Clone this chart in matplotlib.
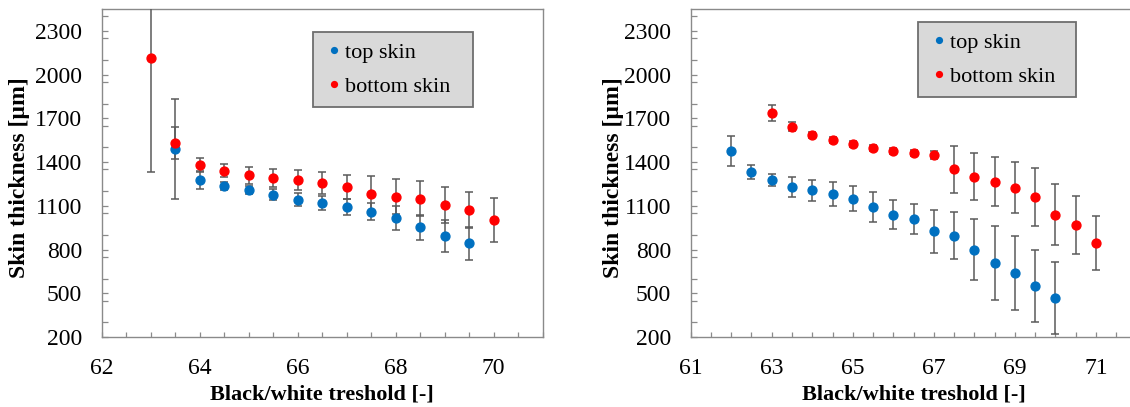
import matplotlib
matplotlib.use("Agg")
import matplotlib.pyplot as plt
from matplotlib.ticker import MultipleLocator, FixedLocator
from matplotlib.lines import Line2D

plt.rcParams['font.family'] = ['Liberation Serif', 'DejaVu Serif']

# ---------------- data ----------------
# left panel
x_top_L = [63.5, 64, 64.5, 65, 65.5, 66, 66.5, 67, 67.5, 68, 68.5, 69, 69.5]
top_L = [1490, 1280, 1236, 1207, 1177, 1143, 1118, 1090, 1060, 1017, 953, 893, 843]
top_L_err = [340, 62, 30, 28, 36, 44, 50, 55, 60, 80, 85, 110, 112]
x_bot_L = [63, 63.5, 64, 64.5, 65, 65.5, 66, 66.5, 67, 67.5, 68, 68.5, 69, 69.5, 70]
bot_L = [2111, 1530, 1382, 1341, 1310, 1293, 1276, 1257, 1230, 1184, 1161, 1147, 1104, 1072, 1001]
bot_L_err = [780, 110, 48, 44, 59, 62, 70, 75, 80, 120, 120, 120, 125, 125, 150]

# right panel
x_top_R = [62, 62.5, 63, 63.5, 64, 64.5, 65, 65.5, 66, 66.5, 67, 67.5, 68, 68.5, 69, 69.5, 70]
top_R = [1476, 1332, 1277, 1227, 1205, 1182, 1150, 1091, 1038, 1011, 924, 895, 799, 708, 640, 549, 467]
top_R_err = [100, 48, 40, 70, 75, 80, 85, 105, 100, 102, 150, 160, 210, 255, 255, 245, 245]
x_bot_R = [63, 63.5, 64, 64.5, 65, 65.5, 66, 66.5, 67, 67.5, 68, 68.5, 69, 69.5, 70, 70.5, 71]
bot_R = [1738, 1642, 1585, 1551, 1524, 1498, 1478, 1464, 1448, 1350, 1300, 1266, 1223, 1159, 1038, 970, 845]
bot_R_err = [55, 30, 20, 20, 20, 20, 20, 22, 25, 160, 160, 170, 175, 200, 210, 200, 182]

y_ticks = [200, 500, 800, 1100, 1400, 1700, 2000, 2300]
xticks_L = [62, 64, 66, 68, 70]
xticks_R = [61, 63, 65, 67, 69, 71]

labels = ["top skin", "bottom skin"]
BLUE = "#0070C0"
RED = "#FF0000"
ERR = "#5A5A5A"
SPINE = "#8A8A8A"

W, H = 1130, 407
fig = plt.figure(figsize=(W / 100, H / 100), dpi=100)

def px_axes(left, right, top, bottom):
    return [left / W, 1 - bottom / H, (right - left) / W, (bottom - top) / H]

axL = fig.add_axes(px_axes(101.7, 542.7, 9, 337))
axR = fig.add_axes(px_axes(690.7, 1136.5, 9, 337))

def style(ax, xlim, xticks):
    ax.set_xlim(*xlim)
    ax.set_ylim(200, 2450)
    ax.xaxis.set_major_locator(FixedLocator(xticks))
    ax.xaxis.set_minor_locator(MultipleLocator(0.5))
    ax.yaxis.set_major_locator(FixedLocator(y_ticks))
    ax.yaxis.set_minor_locator(MultipleLocator(150))
    ax.tick_params(axis='x', which='both', direction='in', length=3.6, width=0.9,
                   color=SPINE, labelsize=17, pad=15, top=False)
    ax.tick_params(axis='y', which='both', direction='in', length=4.6, width=0.9,
                   color=SPINE, labelsize=17, pad=14, right=False)
    for s in ax.spines.values():
        s.set_color(SPINE)
        s.set_linewidth(1.0)
    ax.set_xlabel("Black/white treshold [-]", fontsize=16, fontweight='bold', va='center')
    ax.set_ylabel("Skin thickness [µm]", fontsize=17, fontweight='bold', va='center')

def draw(ax, xt, yt, et, xb, yb, eb):
    for x, y, e, c in ((xt, yt, et, BLUE), (xb, yb, eb, RED)):
        ax.errorbar(x, y, yerr=e, fmt='o', ms=6.4, mfc=c, mec=c,
                    ecolor=ERR, elinewidth=1.1, capsize=3.0, capthick=1.1, zorder=3)

draw(axL, x_top_L, top_L, top_L_err, x_bot_L, bot_L, bot_L_err)
draw(axR, x_top_R, top_R, top_R_err, x_bot_R, bot_R, bot_R_err)
style(axL, (62, 71), xticks_L)
style(axR, (61, 72), xticks_R)
axR.spines['right'].set_visible(False)

axL.xaxis.set_label_coords(0.5, (337 - 395) / 328)
axR.xaxis.set_label_coords(0.5, (337 - 395) / 328)
axL.yaxis.set_label_coords((20 - 101.7) / 441, (337 - 178) / 328)
axR.yaxis.set_label_coords((613 - 690.7) / 445.8, (337 - 178) / 328)

handles = [Line2D([], [], ls='none', marker='o', ms=5.2, mfc=BLUE, mec=BLUE, mew=0),
           Line2D([], [], ls='none', marker='o', ms=5.2, mfc=RED, mec=RED, mew=0)]

def legend(ax, left, right, top, ax_left, ax_w):
    x0 = (left - ax_left) / ax_w
    w = (right - left) / ax_w
    y1 = (337 - top) / 328
    lg = ax.legend(handles, labels, loc='upper left', bbox_to_anchor=(x0, y1 - 0.2, w, 0.2),
                   mode='expand', borderaxespad=0, fontsize=16, frameon=True, fancybox=False,
                   facecolor="#D9D9D9", edgecolor="#6E6E6E", framealpha=1,
                   borderpad=0.45, labelspacing=0.62, handlelength=1.0,
                   handletextpad=0.0)
    lg.get_frame().set_linewidth(1.3)

legend(axL, 313, 473, 32, 101.7, 441)
legend(axR, 917.7, 1075.7, 22.3, 690.7, 445.8)

fig.savefig("out.png", dpi=100)
